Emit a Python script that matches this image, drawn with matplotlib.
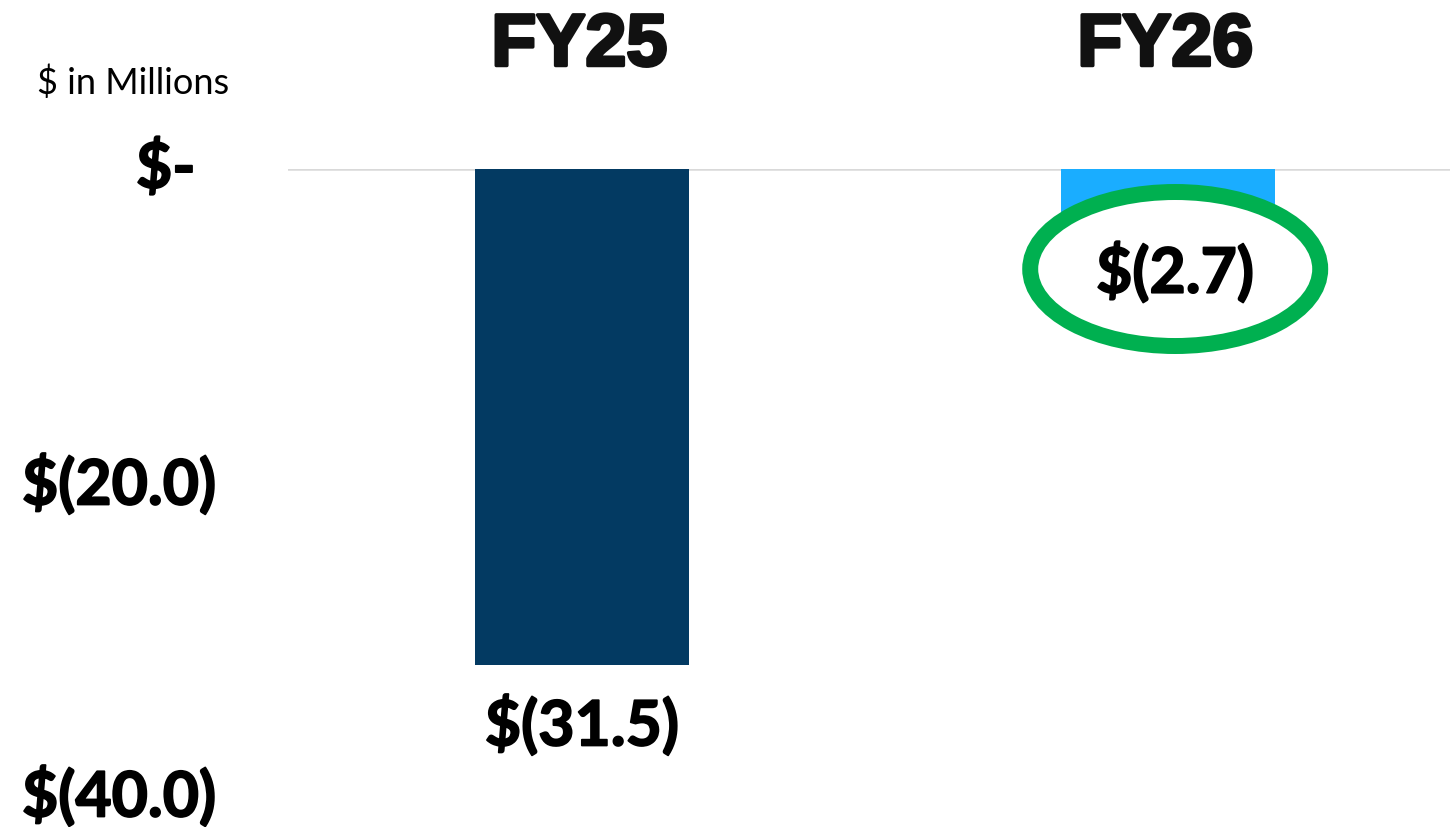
import matplotlib
matplotlib.use("Agg")
import matplotlib.pyplot as plt
from matplotlib.patches import Ellipse
import matplotlib.patheffects as pe

categories = ["FY25", "FY26"]
values = [-31.5, -2.7]
value_labels = ["$(31.5)", "$(2.7)"]
ytick_vals = [0, -20, -40]
ytick_labels = ["$-", "$(20.0)", "$(40.0)"]
unit_label = "$ in Millions"
bar_colors = ["#033A62", "#1AADFF"]

W, H = 1450, 828
fig = plt.figure(figsize=(W / 100, H / 100), dpi=100)
ax = fig.add_axes([288 / W, 28 / H, 1162 / W, 630 / H])
x = list(range(len(categories)))
ax.bar(x, values, width=0.365, color=bar_colors, zorder=2)
ax.set_xlim(-0.502, -0.502 + 1162 / 586)
ax.set_ylim(-40, 0)
ax.axhline(0, color="#D9D9D9", lw=1.8, zorder=1)
for s in ax.spines.values():
    s.set_visible(False)
ax.set_xticks([])
ax.set_yticks([])
ax.patch.set_alpha(0)

heavy = [pe.withStroke(linewidth=1.3, foreground="black")]
lab_font = dict(family=["Lato", "DejaVu Sans"], fontweight="bold", fontsize=45, color="black",
                path_effects=heavy)

# y tick labels (figure pixel coords for x)
tick_left_px = [136, 22, 22]
tick_dy_px = [0, 0, 3]
for v, t, px, dy in zip(ytick_vals, ytick_labels, tick_left_px, tick_dy_px):
    yfig = ax.transData.transform((0, v))[1] + dy
    fig.text(px / W, yfig / H, t, ha="left", va="center", **lab_font)

# value labels
ax.text(x[0], values[0] - 1.8, value_labels[0], ha="center", va="top", **lab_font)
ax.text(x[1] + 0.012, values[1] - 3.85, value_labels[1], ha="center", va="center", zorder=5, **lab_font)

# ellipse around FY26 label
e = Ellipse((x[1] + 0.012, values[1] - 3.65), width=290 / 586, height=154 / 630 * 40,
            facecolor="white", edgecolor="#00B050", lw=11.5, zorder=4,
            path_effects=[pe.SimplePatchShadow(offset=(2, -4), alpha=0.12, shadow_rgbFace="gray"),
                          pe.Normal()])
ax.add_patch(e)
e.set_clip_on(False)

# headers
for xi, c in zip(x, categories):
    xf = ax.transData.transform((xi, 0))[0]
    fig.text(xf / W - 0.002, 1 - 47 / H, c, ha="center", va="center",
             family=["Liberation Sans", "DejaVu Sans"], fontweight="bold", fontsize=53,
             color="#111111",
             path_effects=[pe.withStroke(linewidth=2.5, foreground="#111111")])

fig.text(37 / W, 1 - 83 / H, unit_label, ha="left", va="center",
         family=["Lato", "DejaVu Sans"], fontsize=26, color="black")

fig.savefig("out.png", dpi=100)
